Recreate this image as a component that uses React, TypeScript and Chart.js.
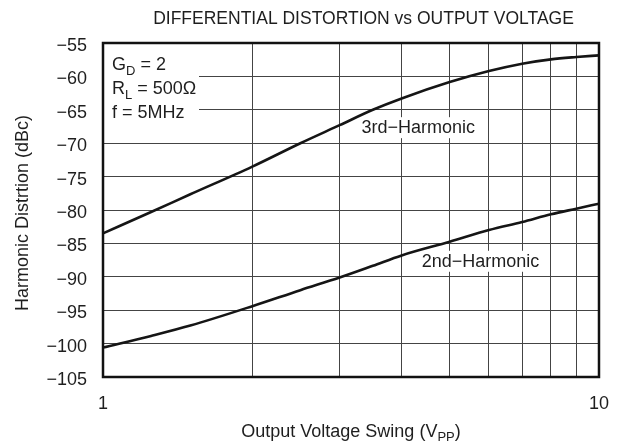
import React, { useEffect, useRef } from 'react';
import { Chart, registerables } from 'chart.js';

Chart.register(...registerables);

// ---- data ----
const xVoltage = [1, 1.25, 1.5, 2, 2.5, 3, 3.5, 4, 5, 6, 7, 8, 9, 10];
const thirdHarmonic = [-83.5, -80.3, -77.65, -73.5, -70.0, -67.3, -65.0, -63.3, -60.85, -59.2, -58.1, -57.45, -57.1, -56.85];
const secondHarmonic = [-100.6, -98.85, -97.3, -94.4, -92.0, -90.1, -88.35, -86.8, -84.75, -83.0, -81.8, -80.65, -79.8, -79.05];
const xGridTicks = [1, 2, 3, 4, 5, 6, 7, 8, 9, 10];
const xLabelledTicks = [1, 10];
const yMin = -105;
const yMax = -55;
const yStep = 5;

const chartTitle = 'DIFFERENTIAL DISTORTION vs OUTPUT VOLTAGE';
const yAxisTitle = 'Harmonic Distrtion (dBc)';
const xAxisTitleParts: [string, boolean][] = [['Output Voltage Swing (V', false], ['PP', true], [')', false]];
const conditionLines: [string, boolean][][] = [
  [['G', false], ['D', true], [' = 2', false]],
  [['R', false], ['L', true], [' = 500\u03A9', false]],
  [['f = 5MHz', false]],
];
const curveLabels = [
  { text: '3rd\u2212Harmonic', x: 3.32, y: -68.5 },
  { text: '2nd\u2212Harmonic', x: 4.39, y: -88.5 },
];

const FONT = '"Liberation Sans", Arial, Helvetica, sans-serif';
const TEXT = '#1e1e1e';

function font(size: number) {
  return `${size}px ${FONT}`;
}

function measureParts(ctx: CanvasRenderingContext2D, parts: [string, boolean][], size: number, sub: number) {
  let w = 0;
  for (const [t, isSub] of parts) {
    ctx.font = font(isSub ? sub : size);
    w += ctx.measureText(t).width;
  }
  return w;
}

function drawParts(ctx: CanvasRenderingContext2D, parts: [string, boolean][], x: number, y: number, size: number, sub: number, subShift: number) {
  let cx = x;
  ctx.textAlign = 'left';
  ctx.textBaseline = 'alphabetic';
  for (const [t, isSub] of parts) {
    ctx.font = font(isSub ? sub : size);
    ctx.fillText(t, cx, isSub ? y + subShift : y);
    cx += ctx.measureText(t).width;
  }
}

const decorPlugin = {
  id: 'decor',
  beforeDatasetsDraw(chart: any) {
    const { ctx, chartArea, scales } = chart;
    const { left, top } = chartArea;
    ctx.save();
    // conditions box
    ctx.fillStyle = '#ffffff';
    ctx.fillRect(left + 1, top + 1, 95, 87);
    ctx.fillStyle = TEXT;
    conditionLines.forEach((parts, i) => {
      drawParts(ctx, parts, left + 9, top + 26.5 + i * 24, 18, 13, 5);
    });
    // curve labels
    ctx.font = font(18);
    for (const lab of curveLabels) {
      const px = scales.x.getPixelForValue(lab.x);
      const py = scales.y.getPixelForValue(lab.y);
      const w = ctx.measureText(lab.text).width;
      ctx.fillStyle = '#ffffff';
      ctx.fillRect(px - 3, py - 16, w + 6, 21);
      ctx.fillStyle = TEXT;
      ctx.textAlign = 'left';
      ctx.textBaseline = 'alphabetic';
      ctx.fillText(lab.text, px, py);
    }
    ctx.restore();
  },
  afterDraw(chart: any) {
    const { ctx, chartArea } = chart;
    const { left, right, top, bottom } = chartArea;
    ctx.save();
    // frame
    ctx.strokeStyle = '#111111';
    ctx.lineWidth = 2.5;
    ctx.strokeRect(left, top, right - left, bottom - top);
    // title
    ctx.fillStyle = TEXT;
    ctx.font = font(17.5);
    ctx.textAlign = 'center';
    ctx.textBaseline = 'alphabetic';
    ctx.fillText(chartTitle, 363.5, 24);
    // x axis title
    const w = measureParts(ctx, xAxisTitleParts, 18, 13);
    drawParts(ctx, xAxisTitleParts, (left + right) / 2 - w / 2, 437, 18, 13, 4);
    // y axis title
    ctx.translate(28, (top + bottom) / 2 + 3);
    ctx.rotate(-Math.PI / 2);
    ctx.font = font(18);
    ctx.textAlign = 'center';
    ctx.fillText(yAxisTitle, 0, 0);
    ctx.restore();
  },
};

export default function App() {
  const ref = useRef<HTMLCanvasElement | null>(null);

  useEffect(() => {
    document.body.style.margin = '0';
    const canvas = ref.current;
    if (!canvas) return;
    const chart = new Chart(canvas, {
      type: 'line',
      data: {
        datasets: [
          {
            label: '3rd-Harmonic',
            data: xVoltage.map((x, i) => ({ x, y: thirdHarmonic[i] })),
            borderColor: '#151515',
            borderWidth: 2.6,
            pointRadius: 0,
            fill: false,
            cubicInterpolationMode: 'monotone',
          },
          {
            label: '2nd-Harmonic',
            data: xVoltage.map((x, i) => ({ x, y: secondHarmonic[i] })),
            borderColor: '#151515',
            borderWidth: 2.6,
            pointRadius: 0,
            fill: false,
            cubicInterpolationMode: 'monotone',
          },
        ],
      },
      options: {
        responsive: false,
        animation: false,
        events: [],
        layout: { padding: { left: 0, right: 26, top: 43, bottom: 0 } },
        plugins: {
          legend: { display: false },
          title: { display: false },
          tooltip: { enabled: false },
        },
        scales: {
          x: {
            type: 'logarithmic',
            min: 1,
            max: 10,
            border: { display: false },
            grid: { color: '#444444', lineWidth: 1, drawTicks: false },
            afterBuildTicks: (s: any) => {
              s.ticks = xGridTicks.map((v) => ({ value: v, major: v === 1 || v === 10 }));
            },
            ticks: {
              autoSkip: false,
              maxRotation: 0,
              padding: 16,
              color: TEXT,
              font: { family: FONT, size: 18 },
              callback: (v: any) => (xLabelledTicks.includes(Number(v)) ? String(v) : ''),
            },
            afterFit: (s: any) => {
              s.height = 69;
            },
          },
          y: {
            type: 'linear',
            min: yMin,
            max: yMax,
            border: { display: false },
            grid: { color: '#444444', lineWidth: 1, drawTicks: false },
            ticks: {
              stepSize: yStep,
              padding: 16,
              labelOffset: 3,
              color: TEXT,
              font: { family: FONT, size: 18 },
              callback: (v: any) => (Number(v) < 0 ? '\u2212' + Math.abs(Number(v)) : String(v)),
            },
            afterFit: (s: any) => {
              s.width = 103;
            },
          },
        },
      } as any,
      plugins: [decorPlugin],
    });
    return () => chart.destroy();
  }, []);

  return (
    <div style={{ width: 625, height: 446 }}>
      <canvas ref={ref} width={625} height={446} style={{ display: 'block' }} />
    </div>
  );
}
